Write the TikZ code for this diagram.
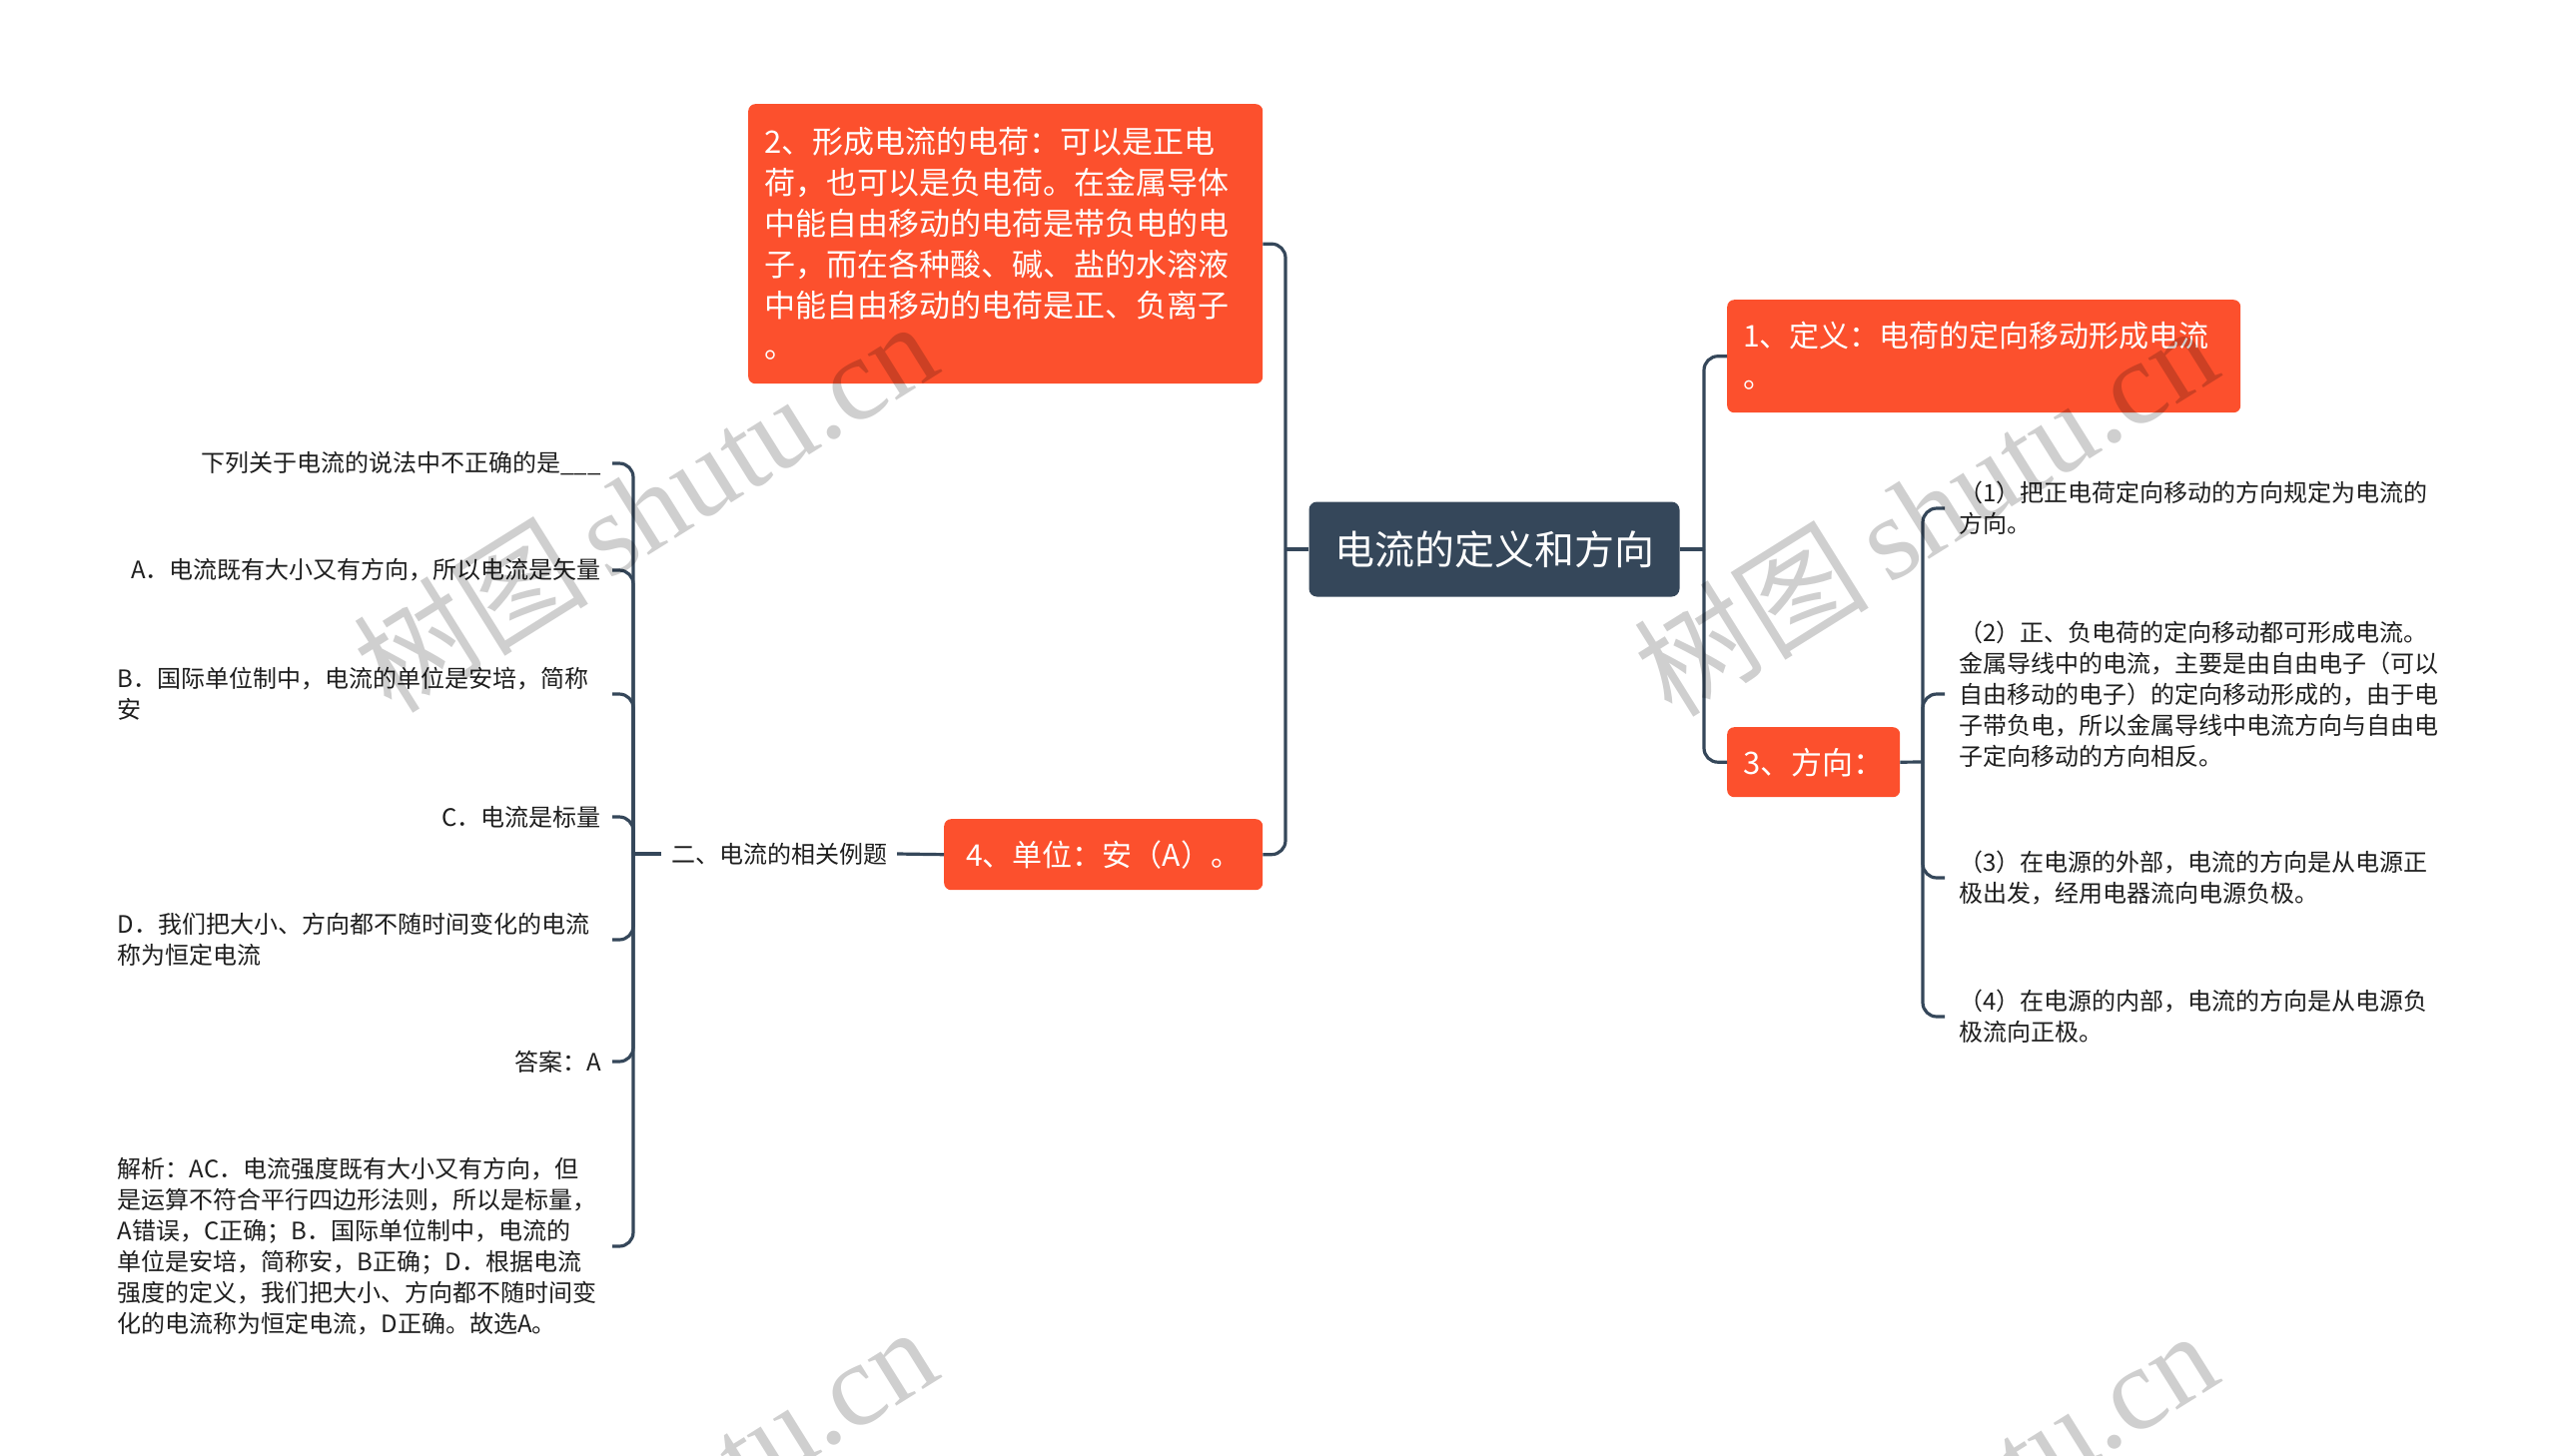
\documentclass[tikz,border=0pt]{standalone}
\usepackage{fontspec}
\setmainfont{Noto Sans CJK SC}
\newfontfamily\wmserif{Liberation Serif}
\newcommand{\lfnt}{\fontsize{24}{31}\selectfont}
\definecolor{dark}{HTML}{35475A}
\definecolor{orng}{HTML}{FC502D}
\definecolor{txt}{HTML}{1E1E1E}
\begin{document}
\begin{tikzpicture}[x=1pt,y=-1pt,
  conn/.style={draw=dark, line width=3.2pt},
  rc/.style={rounded corners=14pt},
  mainbox/.style={fill=dark, rounded corners=8pt, text=white, font=\fontsize{40}{48}\selectfont, minimum width=371pt, minimum height=95pt, inner sep=0pt},
  obox/.style={fill=orng, rounded corners=7pt, text=white, inner xsep=16pt, inner ysep=0pt, align=left, anchor=north west},
  leafL/.style={anchor=east, inner xsep=11pt, inner ysep=2pt, font=\lfnt, text=txt, align=right},
  leafLm/.style={leafL, text width=484pt, align=left},
  leafR/.style={anchor=west, inner xsep=14pt, inner ysep=2pt, font=\lfnt, text=txt, align=left},
  wm/.style={rotate=32, opacity=0.19, text=black, inner sep=0pt}
]
\useasboundingbox (0,0) rectangle (2560,1457);
\fill[white] (0,0) rectangle (2560,1457);

% root
\node[mainbox] (root) at (1496,550) {电流的定义和方向};

% orange nodes
\node[obox, text width=483pt, minimum height=280pt, font=\fontsize{31}{41}\selectfont] (n2) at (749,104)
 {2、形成电流的电荷：可以是正电\\荷，也可以是负电荷。在金属导体\\中能自由移动的电荷是带负电的电\\子，而在各种酸、碱、盐的水溶液\\中能自由移动的电荷是正、负离子\\。};
\node[obox, text width=482pt, minimum height=113pt, font=\fontsize{30}{41}\selectfont] (n1) at (1729,300)
 {1、定义：电荷的定向移动形成电流\\。};
\node[obox, minimum width=173pt, minimum height=70pt, font=\fontsize{31}{38}\selectfont, align=center, inner xsep=0pt] (n3) at (1729,728) {3、方向：};
\node[obox, minimum width=319pt, minimum height=71pt, font=\fontsize{30}{38}\selectfont, align=center, inner xsep=0pt] (n4) at (945,820) {4、单位：安（A）。};

% label
\node[font=\lfnt, text=txt, inner xsep=10pt, inner ysep=2pt] (lab) at (780,855) {二、电流的相关例题};

% left leaves
\node[leafL] (q) at (613,464) {下列关于电流的说法中不正确的是\_\_\_};
\node[leafL] (a) at (613,571) {A．电流既有大小又有方向，所以电流是矢量};
\node[leafLm] (b) at (613,695) {B．国际单位制中，电流的单位是安培，简称\\安};
\node[leafL] (c) at (613,818) {C．电流是标量};
\node[leafLm] (d) at (613,941) {D．我们把大小、方向都不随时间变化的电流\\称为恒定电流};
\node[leafL] (ans) at (613,1063) {答案：A};
\node[leafLm] (jx) at (613,1248) {解析：AC．电流强度既有大小又有方向，但\\是运算不符合平行四边形法则，所以是标量，\\A错误，C正确；B．国际单位制中，电流的\\单位是安培，简称安，B正确；D．根据电流\\强度的定义，我们把大小、方向都不随时间变\\化的电流称为恒定电流，D正确。故选A。};

% right leaves
\node[leafR] (r1) at (1947,509) {（1）把正电荷定向移动的方向规定为电流的\\方向。};
\node[leafR] (r2) at (1947,695) {（2）正、负电荷的定向移动都可形成电流。\\金属导线中的电流，主要是由自由电子（可以\\自由移动的电子）的定向移动形成的，由于电\\子带负电，所以金属导线中电流方向与自由电\\子定向移动的方向相反。};
\node[leafR] (r3) at (1947,879) {（3）在电源的外部，电流的方向是从电源正\\极出发，经用电器流向电源负极。};
\node[leafR] (r4) at (1947,1018) {（4）在电源的内部，电流的方向是从电源负\\极流向正极。};

% junctions
\coordinate (jL) at (1287,550);
\coordinate (jR) at (1706,550);
\coordinate (j3) at (1925,763);
\coordinate (jL2) at (634,855);

% connectors
\draw[conn] (root.west) -- (jL);
\draw[conn,rc] (jL) |- (n2.east);
\draw[conn,rc] (jL) |- (n4.east);
\draw[conn] (root.east) -- (jR);
\draw[conn,rc] (jR) |- (n1.west);
\draw[conn,rc] (jR) |- (n3.west);
\draw[conn] (n3.east) -- (j3);
\foreach \t in {r1,r2,r3,r4} \draw[conn,rc] (j3) |- (\t.west);
\draw[conn] (n4.west) -- (lab.east);
\draw[conn] (lab.west) -- (jL2);
\foreach \t in {q,a,b,c,d,ans,jx} \draw[conn,rc] (jL2) |- (\t.east);

% watermarks
\begin{scope}
\clip (0,0) rectangle (2560,1457);
\foreach \x/\y in {645/506, 1927/510, 645/1513, 1927/1517}
  \node[wm] at (\x,\y) {\fontsize{118}{118}\selectfont 树图\,{\wmserif shutu.cn}};
\end{scope}
\end{tikzpicture}
\end{document}
